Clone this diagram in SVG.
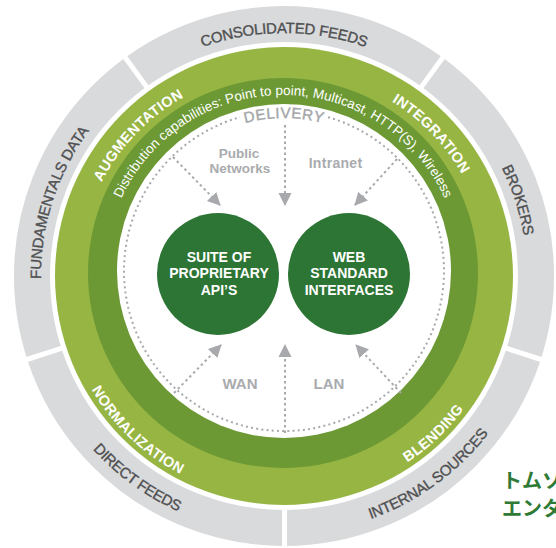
<svg xmlns="http://www.w3.org/2000/svg" xmlns:xlink="http://www.w3.org/1999/xlink" width="556" height="548" viewBox="0 0 556 548">
  <style>
    .ring-label { font-family: "Liberation Sans", Arial, sans-serif; font-size: 15px; fill: #4f5052; stroke: #4f5052; stroke-width: 0.35px; letter-spacing: -0.3px; }
    .green-label { font-family: "Liberation Sans", Arial, sans-serif; font-size: 14.5px; font-weight: bold; fill: #ffffff; letter-spacing: 0.3px; }
    .dist { font-family: "Liberation Sans", Arial, sans-serif; font-size: 13.5px; fill: #ffffff; }
    .net { font-family: "Liberation Sans", Arial, sans-serif; font-weight: bold; fill: #a9abae; text-anchor: middle; }
    .node-text { font-family: "Liberation Sans", Arial, sans-serif; font-size: 14px; font-weight: bold; fill: #ffffff; text-anchor: middle; }
    .conn { fill: none; stroke: #a7a9ac; stroke-width: 2; stroke-dasharray: 2.5 3; marker-end: url(#ah); }
    .divider { stroke: #ffffff; stroke-width: 5; }
    .jp { font-family: "Liberation Sans", "Noto Sans CJK JP", sans-serif; font-size: 20px; font-weight: bold; fill: #2e7a36; }
  </style>
  <defs>
    <marker id="ah" markerUnits="userSpaceOnUse" markerWidth="14" markerHeight="14" refX="12" refY="7" orient="auto">
      <path d="M0,0.5 L13,7 L0,13.5 z" fill="#a7a9ac"/>
    </marker>
    <path id="p-top" d="M73.6,154.5 A243,243 0 0 1 494.4,154.5"/>
    <path id="p-brokers" d="M375,50.7 A243,243 0 0 1 490.1,404.8"/>
    <path id="p-fund" d="M103.4,438.6 A243,243 0 0 1 233.5,38.3"/>
    <path id="p-internal" d="M179.1,511.7 A258,258 0 0 0 540.6,249"/>
    <path id="p-direct" d="M27.4,249 A258,258 0 0 0 388.9,511.7"/>
    <path id="p-aug" d="M80.1,297.4 A205,205 0 0 1 298.3,71.5"/>
    <path id="p-int" d="M269.7,71.5 A205,205 0 0 1 487.9,297.4"/>
    <path id="p-norm" d="M61.4,262.4 A222,222 0 0 0 309.2,497.6"/>
    <path id="p-blend" d="M258.8,497.6 A222,222 0 0 0 506.6,262.4"/>
    <path id="p-dist" d="M107.7,242.1 A178,178 0 0 1 458.3,242.1"/>
    <path id="p-deliv" d="M185.7,153.8 A153,153 0 0 1 382.3,153.8"/>
  </defs>

  <rect width="556" height="548" fill="#ffffff"/>

  <g id="sources-ring">
    <circle cx="284" cy="276" r="252" fill="none" stroke="#d9dadb" stroke-width="36"/>
    <line class="divider" x1="419.2" y1="89.9" x2="443.9" y2="56"/>
    <line class="divider" x1="148.8" y1="89.9" x2="124.1" y2="56"/>
    <line class="divider" x1="502.8" y1="347.1" x2="542.7" y2="360"/>
    <line class="divider" x1="65.2" y1="347.1" x2="25.3" y2="360"/>
    <line class="divider" x1="284.5" y1="506" x2="284.5" y2="548"/>
    <text class="ring-label"><textPath xlink:href="#p-top" startOffset="50%" text-anchor="middle">CONSOLIDATED FEEDS</textPath></text>
    <text class="ring-label"><textPath xlink:href="#p-brokers" startOffset="50%" text-anchor="middle">BROKERS</textPath></text>
    <text class="ring-label"><textPath xlink:href="#p-fund" startOffset="50%" text-anchor="middle">FUNDAMENTALS DATA</textPath></text>
    <text class="ring-label"><textPath xlink:href="#p-internal" startOffset="50%" text-anchor="middle">INTERNAL SOURCES</textPath></text>
    <text class="ring-label"><textPath xlink:href="#p-direct" startOffset="50%" text-anchor="middle">DIRECT FEEDS</textPath></text>
  </g>

  <g id="processing-ring">
    <circle cx="284" cy="276" r="229" fill="#97b543"/>
    <text class="green-label"><textPath xlink:href="#p-aug" startOffset="50%" text-anchor="middle">AUGMENTATION</textPath></text>
    <text class="green-label"><textPath xlink:href="#p-int" startOffset="50%" text-anchor="middle">INTEGRATION</textPath></text>
    <text class="green-label"><textPath xlink:href="#p-norm" startOffset="50%" text-anchor="middle">NORMALIZATION</textPath></text>
    <text class="green-label"><textPath xlink:href="#p-blend" startOffset="50%" text-anchor="middle">BLENDING</textPath></text>
  </g>

  <g id="distribution-ring">
    <circle cx="283" cy="273" r="195" fill="#6c9934"/>
    <text class="dist"><textPath xlink:href="#p-dist" startOffset="50%" text-anchor="middle">Distribution capabilities: Point to point, Multicast, HTTP(S), Wireless</textPath></text>
  </g>

  <g id="delivery">
    <circle cx="284" cy="271" r="167" fill="#ffffff"/>
    <path d="M328.1,117.2 A160,160 0 1 1 239.9,117.2" fill="none" stroke="#a7a9ac" stroke-width="2" stroke-dasharray="2 3.2"/>
    <text font-family="'Liberation Sans', Arial, sans-serif" font-size="15" fill="#a4a6a9" stroke="#a4a6a9" stroke-width="0.4" letter-spacing="0.6"><textPath xlink:href="#p-deliv" startOffset="50%" text-anchor="middle">DELIVERY</textPath></text>
    <text class="net" x="239" y="157.5" font-size="13.5">Public</text>
    <text class="net" x="240" y="172.5" font-size="13.5">Networks</text>
    <text class="net" x="335.5" y="168" font-size="14" letter-spacing="0.3">Intranet</text>
    <text class="net" x="240" y="389" font-size="15">WAN</text>
    <text class="net" x="329" y="389" font-size="15">LAN</text>
  </g>

  <g id="connectors">
    <line class="conn" x1="173" y1="157" x2="220" y2="205"/>
    <line class="conn" x1="285" y1="125" x2="285" y2="205"/>
    <line class="conn" x1="397" y1="159" x2="355" y2="205"/>
    <line class="conn" x1="174" y1="393" x2="221" y2="345"/>
    <line class="conn" x1="285" y1="433" x2="285" y2="345"/>
    <line class="conn" x1="401" y1="393" x2="356" y2="345"/>
  </g>

  <g id="node-proprietary-apis">
    <circle cx="218" cy="274" r="61" fill="#2d7535"/>
    <text class="node-text" x="219" y="262">SUITE OF</text>
    <text class="node-text" x="219" y="278">PROPRIETARY</text>
    <text class="node-text" x="219" y="295">API’S</text>
  </g>

  <g id="node-web-standard">
    <circle cx="349" cy="274" r="61" fill="#2d7535"/>
    <text class="node-text" x="349" y="262">WEB</text>
    <text class="node-text" x="349" y="278">STANDARD</text>
    <text class="node-text" x="349" y="295">INTERFACES</text>
  </g>

  <g id="caption">
    <text class="jp" x="502" y="488">トムソ</text>
    <text class="jp" x="502" y="516">エンタ</text>
  </g>
</svg>
